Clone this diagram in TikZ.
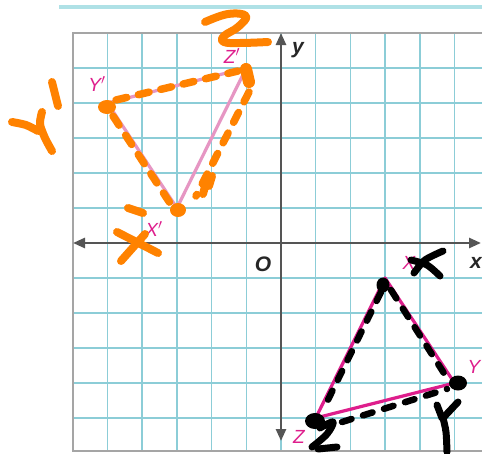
\documentclass[tikz,border=0pt]{standalone}
\usepackage{fontspec}
\setsansfont{Liberation Sans}
\usetikzlibrary{arrows.meta}
\definecolor{gridc}{RGB}{140,205,215}
\definecolor{borderc}{RGB}{165,165,165}
\definecolor{axisc}{RGB}{85,85,85}
\definecolor{magc}{RGB}{222,30,140}
\definecolor{pinkc}{RGB}{230,150,195}
\definecolor{orc}{RGB}{255,130,0}
\definecolor{topc}{RGB}{175,225,230}
\tikzset{
  gridline/.style={gridc, line width=1.5pt},
  borderline/.style={borderc, line width=2.2pt},
  axisline/.style={axisc, line width=2.6pt, {Triangle[length=12pt,width=10pt]}-{Triangle[length=12pt,width=10pt]}},
  axislabel/.style={font=\sffamily\bfseries\itshape\fontsize{21}{21}\selectfont, text=black!85},
  vlabel/.style={font=\sffamily\itshape\fontsize{19}{19}\selectfont, text=magc, inner sep=0pt},
  imgtri/.style={magc, line width=3.2pt, line join=round},
  pretri/.style={pinkc, line width=3.2pt, line join=round},
  orhand/.style={orc, line width=8pt, line cap=round, line join=round},
  orhdash/.style={orc, line width=7.5pt, line cap=round, dash pattern=on 11pt off 12pt},
  bkhand/.style={black, line width=7pt, line cap=round, line join=round},
  bkhdash/.style={black, line width=6.5pt, line cap=round, dash pattern=on 10pt off 12pt},
}
\begin{document}
\begin{tikzpicture}[x=1pt,y=-1pt]
\useasboundingbox (0,0) rectangle (482,453);
\fill[white] (0,0) rectangle (482,453);
% top header line
\draw[topc, line width=3.5pt] (59,7) -- (482,7);
% grid
\foreach \k in {-5,...,5} \draw[gridline] ({281+34.7*\k},33) -- ({281+34.7*\k},451);
\foreach \yy in {68,103,138,173,208,278,313,348,383,418} \draw[gridline] (73,\yy) -- (482,\yy);
\draw[borderline] (482,33) -- (73,33) -- (73,451) -- (482,451);
% axes
\coordinate (xl) at (73,243);
\coordinate (xr) at (481,243);
\coordinate (yt) at (281,33);
\coordinate (yb) at (281,441);
\draw[axisline] (xl) -- (xr);
\draw[axisline] (yb) -- (yt);
\node[axislabel] (ylab) at (298,50) {y};
\node[axislabel] (xlab) at (476,263) {x};
\node[axislabel] (olab) at (263,264) {O};
% vertices
\coordinate (X) at (385.1,278);
\coordinate (Y) at (454.5,383);
\coordinate (Z) at (315.7,418);
\coordinate (Xp) at (176.9,208);
\coordinate (Yp) at (107.5,103);
\coordinate (Zp) at (246.3,68);
\draw[pretri] (Xp) -- (Yp) -- (Zp) -- cycle;
\draw[imgtri] (X) -- (Y) -- (Z) -- cycle;
% labels
\node[vlabel] (lXp) at (154,229) {X$'$};
\node[vlabel] (lYp) at (97,84) {Y$'$};
\node[vlabel] (lZp) at (232,56) {Z$'$};
\node[vlabel] (lX) at (409,263) {X};
\node[vlabel] (lY) at (474,367) {Y};
\node[vlabel] (lZ) at (299,437) {Z};
% orange hand annotations
\draw[orhdash] (116,100) -- (238,71);
\draw[orhdash] (113,116) -- (170,203);
\draw[orhdash] (249,92) -- (196,196);
\draw[orhand] (206,183) -- (203,194);
\draw[orhand] (212,176) -- (209,186);
\draw[orhand] (128,208) -- (143,213);
\fill[orc] (107,107) ellipse (9pt and 7pt);
\fill[orc] (178,210) ellipse (8pt and 7pt);
\draw[orc, line width=12pt, line cap=round] (246,69) -- (249,82);
% orange Z
\draw[orhand] plot[smooth, tension=0.7] coordinates {(205,22) (228,14) (246,16) (238,27) (224,36) (224,42) (240,43) (268,42)};
% orange Y'
\draw[orhand] plot[smooth] coordinates {(12,122) (26,125) (38,131)};
\draw[orhand] plot[smooth] coordinates {(42,112) (40,124) (45,138) (52,151)};
\draw[orhand] (52,82) -- (58,106);
% orange X
\draw[orhand] (117,232) -- (158,253);
\draw[orhand] (145,234) -- (121,261);
% black hand annotations
\draw[bkhdash] (381,292) -- (323,410);
\draw[bkhdash] (391,290) -- (447,378);
\draw[bkhdash] (342,422) -- (447,389);
\fill[black] (383,285) ellipse (6.5pt and 7.5pt);
\fill[black] (458,383) ellipse (9pt and 7.5pt);
\fill[black] (315,421) ellipse (10pt and 8pt);
% black X
\draw[bkhand] plot[smooth] coordinates {(443,251) (425,260) (414,273)};
\draw[bkhand] plot[smooth] coordinates {(411,260) (427,265) (440,276)};
% black Z
\draw[bkhand] plot[smooth, tension=0.6] coordinates {(320,428) (333,422) (327,434) (312,447)};
\draw[bkhand] (318,449) -- (337,447);
% black Y
\draw[bkhand] (437,405) -- (442,418);
\draw[bkhand] (458,402) -- (443,418);
\draw[bkhand] plot[smooth] coordinates {(443,418) (446,432) (447,452)};
\end{tikzpicture}
\end{document}
